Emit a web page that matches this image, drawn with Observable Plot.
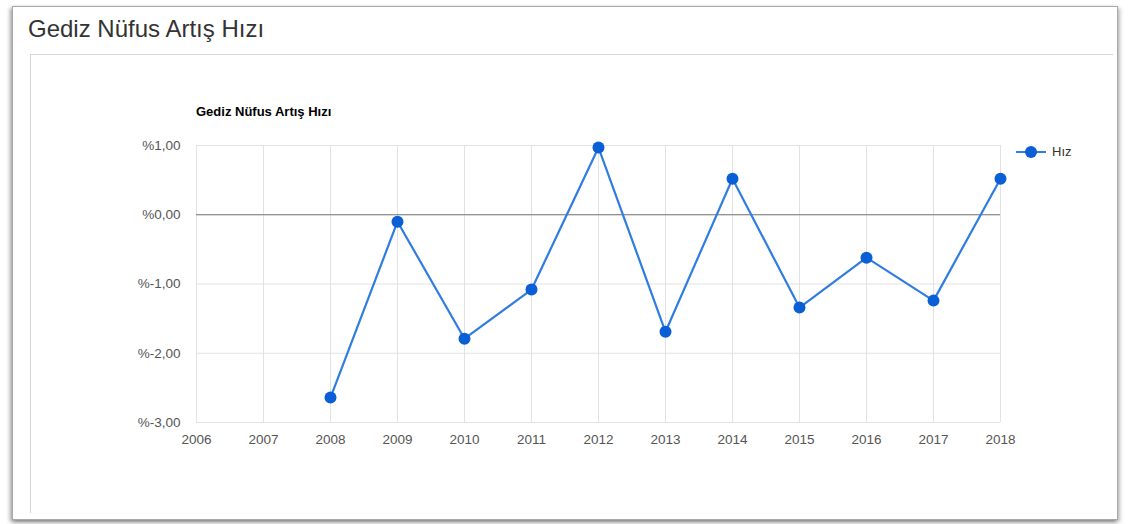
<!DOCTYPE html>
<html>
<head>
<meta charset="utf-8">
<script src="https://cdn.jsdelivr.net/npm/d3@7"></script>
<script src="https://cdn.jsdelivr.net/npm/@observablehq/plot@0.6"></script>
<style>
  html, body { margin: 0; padding: 0; background: #fff; width: 1130px; height: 524px; overflow: hidden; font-family: "Liberation Sans", Arial, sans-serif; }
  #outer { position: absolute; left: 12px; top: 6px; width: 1104px; height: 512px; border: 1px solid #a8a8a8; box-shadow: -2px 2px 4px rgba(0,0,0,0.35), 2px 2px 4px rgba(0,0,0,0.25); background: #fff; }
  #inner { position: absolute; left: 30px; top: 54px; width: 1082px; height: 458px; border-top: 1px solid #d6d6d6; border-left: 1px solid #d6d6d6; }
  #title { position: absolute; left: 28px; top: 15px; font-size: 24px; line-height: 28px; color: #333; white-space: nowrap; }
  #ctitle { position: absolute; left: 196px; top: 104px; font-size: 13px; font-weight: bold; color: #000; }
  #chart { position: absolute; left: 0; top: 125px; }
  #legend { position: absolute; left: 1016px; top: 144px; font-size: 13px; color: #333; display: flex; align-items: center; }
  #legend svg { margin-right: 6px; }
</style>
</head>
<body>
<div id="outer"></div>
<div id="inner"></div>
<div id="title">Gediz Nüfus Artış Hızı</div>
<div id="ctitle">Gediz Nüfus Artış Hızı</div>
<div id="chart"></div>
<div id="legend"><svg width="30" height="14"><line x1="0" y1="7" x2="30" y2="7" stroke="#2f7de1" stroke-width="2"/><circle cx="15" cy="7" r="6" fill="#0a5fd6"/></svg><span>Hız</span></div>
<script>
const years = [2008, 2009, 2010, 2011, 2012, 2013, 2014, 2015, 2016, 2017, 2018];
const rates = [-2.64, -0.10, -1.79, -1.08, 0.97, -1.69, 0.52, -1.34, -0.62, -1.24, 0.52];
const xTicks = [2006, 2007, 2008, 2009, 2010, 2011, 2012, 2013, 2014, 2015, 2016, 2017, 2018];
const yTicks = [-3, -2, -1, 0, 1];
const seriesName = "Hız";

const data = years.map((y, i) => ({year: y, rate: rates[i], series: seriesName}));
const fmtY = v => "%" + v.toFixed(2).replace(".", ",");

const chart = Plot.plot({
  width: 1130,
  height: 340,
  marginLeft: 196,
  marginRight: 130,
  marginTop: 20,
  marginBottom: 43,
  style: { fontFamily: "Liberation Sans, Arial, sans-serif", fontSize: "13.5px", color: "#555", background: "transparent" },
  x: { domain: [2006, 2018], ticks: xTicks, tickFormat: d => String(d), tickSize: 0, tickPadding: 12, label: null },
  y: { domain: [-3, 1], ticks: yTicks, tickFormat: fmtY, tickSize: 0, tickPadding: 16, label: null },
  marks: [
    Plot.gridX(xTicks, { stroke: "#e2e2e2", strokeOpacity: 1 }),
    Plot.gridY(yTicks, { stroke: "#e2e2e2", strokeOpacity: 1 }),
    Plot.ruleY([0], { stroke: "#777", strokeWidth: 1.2 }),
    Plot.line(data, { x: "year", y: "rate", stroke: "#2f7de1", strokeWidth: 2.2 }),
    Plot.dot(data, { x: "year", y: "rate", r: 6, fill: "#0a5fd6", stroke: "none" })
  ]
});
document.getElementById("chart").appendChild(chart);
</script>
</body>
</html>
